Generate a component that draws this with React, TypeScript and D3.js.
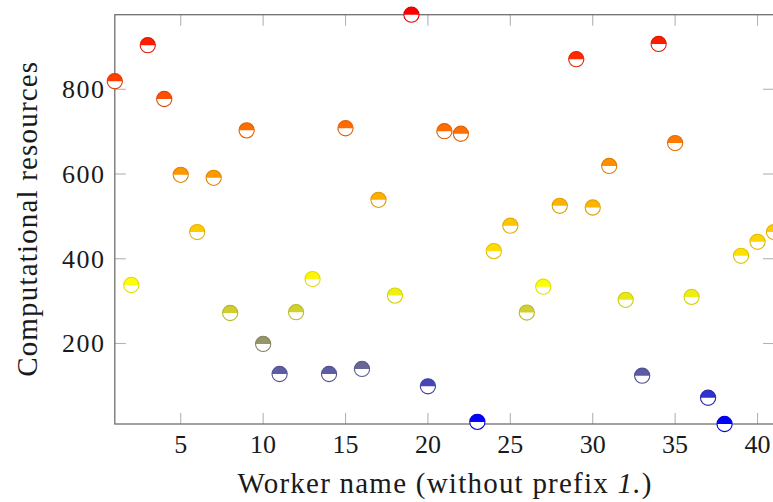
import React from "react";
import * as d3 from "d3";

const workers: number[] = d3.range(1, 42);
const resources: number[] = [
  819, 338, 904, 777, 598, 463, 591, 272, 703, 199,
  128, 274, 352, 128, 708, 140, 539, 313, 976, 99,
  701, 695, 15, 418, 478, 273, 334, 525, 871, 521,
  619, 303, 124, 907, 673, 310, 72, 10, 407, 440,
  463,
];
const xTicks: number[] = [5, 10, 15, 20, 25, 30, 35, 40];
const yTicks: number[] = [200, 400, 600, 800];
const colormap: string[] = ["#0000ff", "#ffff00", "#ff8000", "#ff0000"];

const W = 773;
const H = 502;
const left = 114.8;
const right = 774;
const top = 14.7;
const bottom = 424;
const font = "'Liberation Serif', 'Times New Roman', serif";

export default function App() {
  const yMin = d3.min(resources) as number;
  const yMax = d3.max(resources) as number;
  const x = d3.scaleLinear().domain([1, 41]).range([left, right]);
  const y = d3.scaleLinear().domain([yMin, yMax]).range([bottom, top]);
  const step = (yMax - yMin) / (colormap.length - 1);
  const color = d3
    .scaleLinear<string>()
    .domain(colormap.map((_, i) => yMin + i * step))
    .range(colormap)
    .interpolate(d3.interpolateRgb);
  const r = 7.6;
  const tickLen = 11;
  const arcTop = d3.arc()({
    innerRadius: 0,
    outerRadius: r,
    startAngle: -Math.PI / 2,
    endAngle: Math.PI / 2,
  }) as string;

  return (
    <svg
      width={W}
      height={H}
      style={{ position: "absolute", left: 0, top: 0, background: "#fff" }}
      fontFamily={font}
    >
      {/* ticks */}
      <g stroke="#b3b3b3" strokeWidth={1.1}>
        {xTicks.map((t) => (
          <g key={"xt" + t}>
            <line x1={x(t)} x2={x(t)} y1={bottom} y2={bottom - tickLen} />
            <line x1={x(t)} x2={x(t)} y1={top} y2={top + tickLen} />
          </g>
        ))}
        {yTicks.map((t) => (
          <g key={"yt" + t}>
            <line x1={left} x2={left + tickLen} y1={y(t)} y2={y(t)} />
            <line x1={right} x2={right - tickLen} y1={y(t)} y2={y(t)} />
          </g>
        ))}
      </g>
      {/* frame */}
      <rect
        x={left}
        y={top}
        width={right - left}
        height={bottom - top}
        fill="none"
        stroke="#707070"
        strokeWidth={1.3}
      />
      {/* tick labels */}
      <g fontSize={26} fill="#1a1a1a">
        {xTicks.map((t) => (
          <text key={"xl" + t} x={x(t)} y={453} textAnchor="middle">
            {t}
          </text>
        ))}
        {yTicks.map((t) => (
          <text key={"yl" + t} x={104} y={y(t) + 9} textAnchor="end" textLength={42} lengthAdjust="spacing">
            {t}
          </text>
        ))}
      </g>
      {/* axis labels */}
      <text
        x={(left + right) / 2}
        y={493}
        textAnchor="middle"
        fontSize={29}
        fill="#1a1a1a"
        textLength={414}
        lengthAdjust="spacing"
      >
        Worker name (without prefix <tspan fontStyle="italic">1.</tspan>)
      </text>
      <text
        transform={`translate(37,${(top + bottom) / 2}) rotate(-90)`}
        textAnchor="middle"
        fontSize={29}
        fill="#1a1a1a"
        textLength={315}
        lengthAdjust="spacing"
      >
        Computational resources
      </text>
      {/* markers */}
      <g>
        {workers.map((w, i) => {
          const v = resources[i];
          const c = color(v);
          const stroke = d3.color(c)!.darker(0.35).formatHex();
          return (
            <g key={"m" + w} transform={`translate(${x(w)},${y(v)})`}>
              <circle r={r} fill="#ffffff" />
              <path d={arcTop} fill={c} />
              <circle r={r} fill="none" stroke={stroke} strokeWidth={1.1} />
            </g>
          );
        })}
      </g>
    </svg>
  );
}
